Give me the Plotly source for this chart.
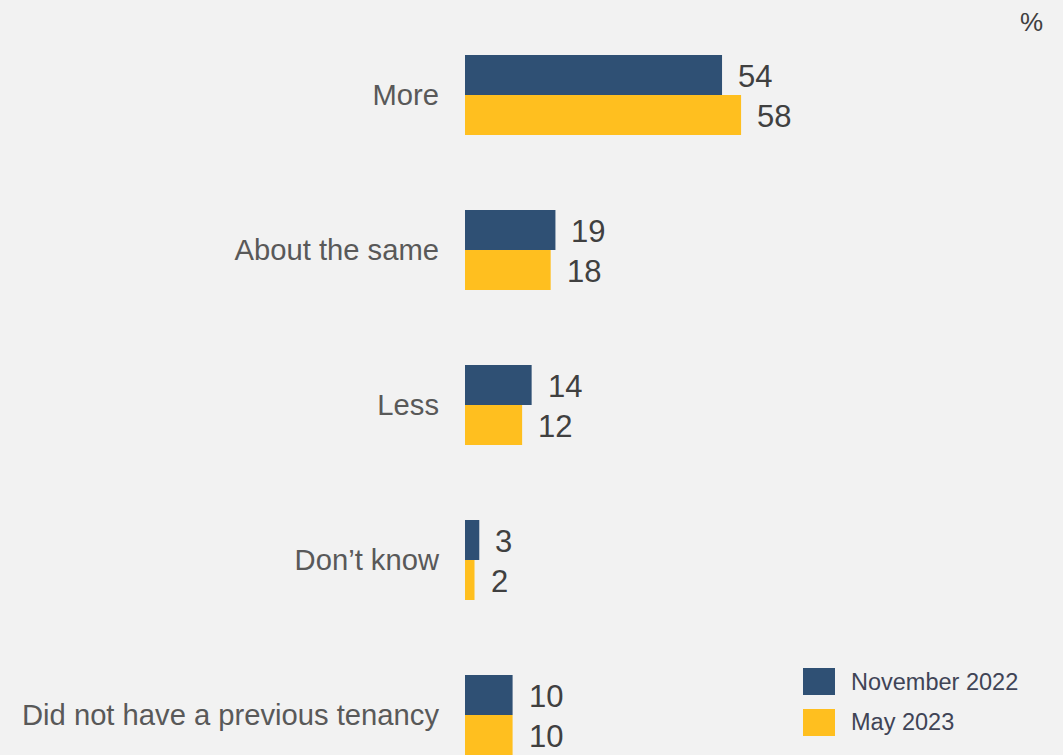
import plotly.graph_objects as go

categories = ["More", "About the same", "Less", "Don\u2019t know", "Did not have a previous tenancy"]
nov_2022 = [54, 19, 14, 3, 10]
may_2023 = [58, 18, 12, 2, 10]
series_names = ["November 2022", "May 2023"]

NAVY = "#2f5074"
YELLOW = "#ffbf1f"
BG = "#f2f2f2"
FONT = "Liberation Sans, Arial, sans-serif"

W, H = 1063, 755
ML = 465
px_per_unit = 4.76
plot_w = W - ML
xmax = plot_w / px_per_unit
cat_step = 155.0
top_center = 95.0
y_top = -top_center / cat_step
y_bot = y_top + H / cat_step

fig = go.Figure()
fig.add_trace(go.Bar(y=categories, x=nov_2022, orientation="h", name=series_names[0],
                     marker=dict(color=NAVY, line=dict(width=0)), showlegend=False))
fig.add_trace(go.Bar(y=categories, x=may_2023, orientation="h", name=series_names[1],
                     marker=dict(color=YELLOW, line=dict(width=0)), showlegend=False))


def px_x(x):
    return (x - ML) / plot_w


def px_y(y):
    return 1 - y / H


annotations = []
for vals, shift in ((nov_2022, 19), (may_2023, -21)):
    for c, v in zip(categories, vals):
        annotations.append(dict(x=v, y=c, xref="x", yref="y", text=str(v), showarrow=False,
                                xanchor="left", yanchor="middle", xshift=14, yshift=shift,
                                font=dict(family=FONT, size=31, color="#404040")))

annotations.append(dict(x=px_x(1031), y=px_y(22), xref="paper", yref="paper", text="%",
                        showarrow=False, xanchor="center", yanchor="middle",
                        font=dict(family=FONT, size=26, color="#404040")))

shapes = []
legend_rows = [(series_names[0], NAVY, 668, 695, 682), (series_names[1], YELLOW, 709, 736, 722)]
for name, col, y0, y1, yc in legend_rows:
    shapes.append(dict(type="rect", xref="paper", yref="paper", x0=px_x(803), x1=px_x(835),
                       y0=px_y(y1), y1=px_y(y0), fillcolor=col, line=dict(width=0)))
    annotations.append(dict(x=px_x(849), y=px_y(yc), xref="paper", yref="paper", text=name,
                            showarrow=False, xanchor="left", yanchor="middle",
                            font=dict(family=FONT, size=23.5, color="#404456")))

fig.update_layout(
    width=W, height=H,
    margin=dict(l=ML, r=0, t=0, b=0, pad=0),
    paper_bgcolor=BG, plot_bgcolor=BG,
    barmode="group", bargap=1 - 80 / cat_step, bargroupgap=0,
    xaxis=dict(range=[0, xmax], visible=False, fixedrange=True),
    yaxis=dict(range=[y_bot, y_top], showgrid=False, zeroline=False, showline=False,
               ticks="", ticklabelstandoff=25, fixedrange=True,
               tickfont=dict(family=FONT, size=29.2, color="#595959")),
    annotations=annotations, shapes=shapes,
    font=dict(family=FONT),
)

fig.write_html(
    "out.html",
    config={"displayModeBar": False},
    post_script="document.body.style.margin='0';document.body.style.overflow='hidden';"
                "document.documentElement.style.background='#f2f2f2';",
)
